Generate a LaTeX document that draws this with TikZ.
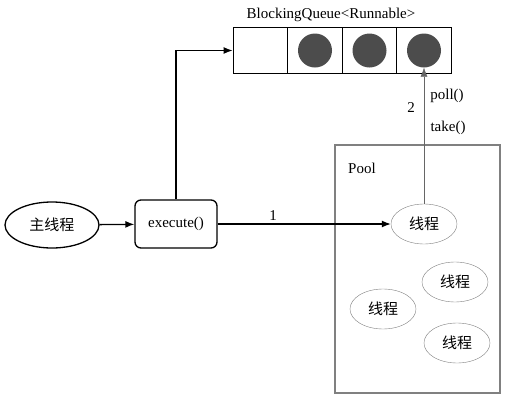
\documentclass[tikz,border=0pt]{standalone}
\usepackage{fontspec}
\setmainfont{Liberation Serif}
\newfontfamily\cjk{Noto Sans CJK SC}
\usetikzlibrary{shapes.geometric,arrows.meta}
\begin{document}
\begin{tikzpicture}[x=1pt,y=-1pt,font=\fontsize{15}{18}\selectfont,>={Latex[length=9pt,width=7pt]}]
\tikzstyle{cell}=[draw,line width=1.3pt,minimum width=54.5pt,minimum height=46pt,inner sep=0pt]
\tikzstyle{ball}=[circle,fill=black!70,minimum size=34pt,inner sep=0pt]
\tikzstyle{thread}=[ellipse,draw=gray,minimum width=66pt,minimum height=40pt,inner sep=0pt]
\useasboundingbox (0,0) rectangle (507,402);
% queue
\node at (331,15) {BlockingQueue<Runnable>};
\node[cell] (q1) at (260.5,50.5) {};
\node[cell] (q2) at (315,50.5) {};
\node[cell] (q3) at (369.5,50.5) {};
\node[cell] (q4) at (424,50.5) {};
\node[ball] (b2) at (q2) {};
\node[ball] (b3) at (q3) {};
\node[ball] (b4) at (q4) {};
% main thread
\node[ellipse,draw,line width=1.3pt,minimum width=94pt,minimum height=46pt] (main) at (52,225) {\cjk 主线程};
\node[draw,line width=1.3pt,rounded corners=6pt,minimum width=82pt,minimum height=48pt] (exec) at (176,224) {execute()};
% pool
\node[draw=gray,line width=2.2pt,minimum width=165pt,minimum height=248pt] (pool) at (417.5,269) {};
\node at (362,168) {Pool};
\node[thread] (t1) at (424,224) {\cjk 线程};
\node[thread] (t2) at (455,282) {\cjk 线程};
\node[thread] (t3) at (383,309) {\cjk 线程};
\node[thread] (t4) at (457,343) {\cjk 线程};
% arrows
\draw[->,line width=1.3pt] (main) -- (exec);
\draw[->,line width=1.3pt] (exec.north) |- (q1.west);
\draw[->,line width=1.3pt] (exec) -- node[above,pos=0.32]{1} (t1);
\draw[->,gray!80!black] (t1.north) -- (t1.north |- b4.south);
\node at (411,108) {2};
\node at (447,96) {poll()};
\node at (448,128) {take()};
\end{tikzpicture}
\end{document}
